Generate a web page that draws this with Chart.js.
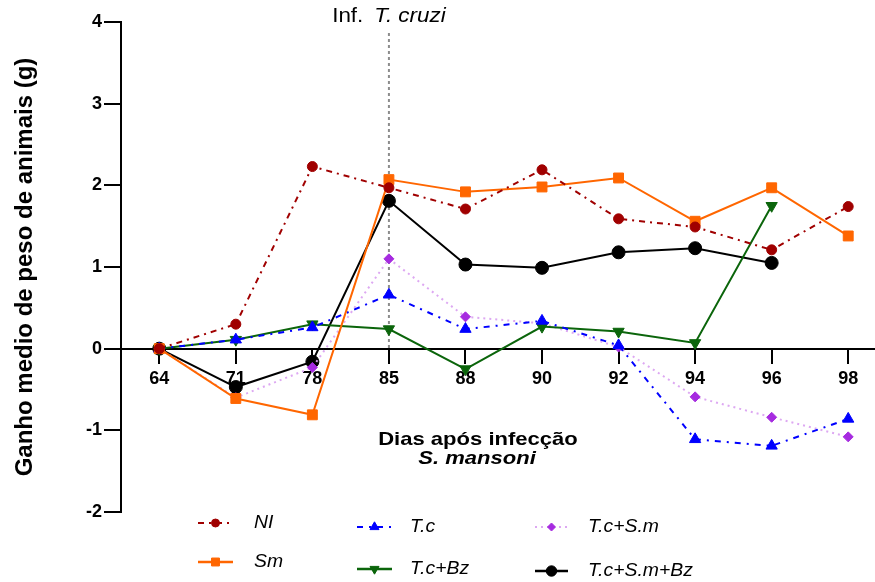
<!DOCTYPE html>
<html>
<head>
<meta charset="utf-8">
<script src="https://cdn.jsdelivr.net/npm/chart.js@4.4.1/dist/chart.umd.min.js"></script>
<style>
  html, body { margin: 0; padding: 0; background: #fff; }
  #wrap { width: 875px; height: 582px; position: relative; }
</style>
</head>
<body>
<div id="wrap"><canvas id="pesoChart"></canvas></div>
<script>
// dias após infecção por S. mansoni
const days = [64, 71, 78, 85, 88, 90, 92, 94, 96, 98];
const yTicks = [-2, -1, 0, 1, 2, 3, 4];

// ganho médio de peso (g) por grupo
const niValues = [0, 0.30, 2.23, 1.97, 1.71, 2.19, 1.59, 1.49, 1.21, 1.74];
const smValues = [0, -0.61, -0.81, 2.07, 1.92, 1.98, 2.09, 1.56, 1.97, 1.38];
const tcValues = [0, 0.11, 0.26, 0.66, 0.24, 0.34, 0.04, -1.11, -1.19, -0.86];
const tcBzValues = [0, 0.11, 0.30, 0.24, -0.25, 0.27, 0.21, 0.07, 1.75, null];
const tcSmValues = [0, -0.60, -0.23, 1.10, 0.39, 0.31, 0.02, -0.59, -0.84, -1.08];
const tcSmBzValues = [0, -0.47, -0.16, 1.81, 1.03, 0.99, 1.18, 1.23, 1.05, null];

const infectionDay = 85;

const FONT = '"Liberation Sans", Arial, sans-serif';
Chart.defaults.font.family = FONT;
Chart.defaults.color = '#000';

function toPoints(values) {
  return values.map((v, i) => ({ x: i, y: v }));
}

function series(label, values, style) {
  return Object.assign({
    label: label,
    data: toPoints(values),
    borderWidth: 2,
    pointBorderWidth: 1,
    fill: false,
    tension: 0
  }, style);
}

const datasets = [
  series('NI', niValues, {
    borderColor: '#A00000', backgroundColor: '#A00000', pointBorderColor: '#A00000',
    borderDash: [6, 5, 2, 5], pointStyle: 'circle', pointRadius: 5, order: 1
  }),
  series('Sm', smValues, {
    borderColor: '#FF6600', backgroundColor: '#FF6600', pointBorderColor: '#FF6600',
    pointStyle: 'rect', pointRadius: 7, order: 2
  }),
  series('T.c', tcValues, {
    borderColor: '#0000FF', backgroundColor: '#0000FF', pointBorderColor: '#0000FF',
    borderDash: [6, 6, 2, 6], pointStyle: 'triangle', pointRadius: 6.5, order: 3
  }),
  series('T.c+Bz', tcBzValues, {
    borderColor: '#0B650B', backgroundColor: '#0B650B', pointBorderColor: '#0B650B',
    pointStyle: 'triangle', pointRotation: 180, pointRadius: 6.5, order: 4
  }),
  series('T.c+S.m', tcSmValues, {
    borderColor: '#DDA8F2', backgroundColor: '#A62BE0', pointBorderColor: '#A62BE0',
    borderDash: [2, 4], pointStyle: 'rectRot', pointRadius: 5, order: 5
  }),
  series('T.c+S.m+Bz', tcSmBzValues, {
    borderColor: '#000000', backgroundColor: '#000000', pointBorderColor: '#000000',
    pointStyle: 'circle', pointRadius: 6.5, order: 6
  })
];

// text drawn with a slight horizontal stretch
function stretchedText(ctx, text, x, y, font, align, sx) {
  ctx.save();
  ctx.font = font;
  ctx.textBaseline = 'middle';
  ctx.textAlign = align;
  ctx.translate(x, y);
  ctx.scale(sx, 1);
  ctx.fillText(text, 0, 0);
  ctx.restore();
}

// dashed marker for the T. cruzi infection and the axis caption
const annotations = {
  id: 'annotations',
  beforeDatasetsDraw(chart) {
    const { ctx, scales } = chart;
    const x = scales.x.getPixelForValue(days.indexOf(infectionDay));
    ctx.save();
    ctx.strokeStyle = '#8c8c8c';
    ctx.lineWidth = 2;
    ctx.setLineDash([3, 3]);
    ctx.beginPath();
    ctx.moveTo(x, scales.y.getPixelForValue(4) + 11);
    ctx.lineTo(x, scales.y.getPixelForValue(0));
    ctx.stroke();
    ctx.restore();

    // "Inf. T. cruzi"
    ctx.save();
    ctx.fillStyle = '#000';
    const sx = 1.12;
    ctx.font = '20px ' + FONT;
    const w1 = ctx.measureText('Inf.').width * sx;
    ctx.font = 'italic 20px ' + FONT;
    const w2 = ctx.measureText('T. cruzi').width * sx;
    const gap = 11;
    const left = x - (w1 + gap + w2) / 2;
    stretchedText(ctx, 'Inf.', left, 16, '20px ' + FONT, 'left', sx);
    stretchedText(ctx, 'T. cruzi', left + w1 + gap, 16, 'italic 20px ' + FONT, 'left', sx);
    ctx.restore();

    ctx.save();
    ctx.fillStyle = '#000';
    stretchedText(ctx, 'Dias após infecção', 478, 440, 'bold 19px ' + FONT, 'center', 1.16);
    stretchedText(ctx, 'S. mansoni', 477, 459, 'italic bold 19px ' + FONT, 'center', 1.16);
    ctx.restore();
  }
};

// legend laid out in three columns, two rows
const legendSlots = [
  { x0: 198, x1: 233, y: 523, tx: 254 },
  { x0: 198, x1: 233, y: 562, tx: 254 },
  { x0: 357, x1: 392, y: 527, tx: 410 },
  { x0: 357, x1: 392, y: 569, tx: 410 },
  { x0: 535, x1: 568, y: 527, tx: 588 },
  { x0: 535, x1: 568, y: 571, tx: 588 }
];

const gridLegend = {
  id: 'gridLegend',
  afterDraw(chart) {
    const ctx = chart.ctx;
    chart.data.datasets.forEach((ds, i) => {
      const s = legendSlots[i];
      ctx.save();
      ctx.strokeStyle = ds.borderColor;
      ctx.lineWidth = ds.borderDash ? 2 : 2.5;
      ctx.setLineDash(ds.borderDash || []);
      ctx.beginPath();
      ctx.moveTo(s.x0, s.y);
      ctx.lineTo(s.x1, s.y);
      ctx.stroke();
      ctx.setLineDash([]);
      ctx.fillStyle = ds.backgroundColor;
      ctx.strokeStyle = ds.pointBorderColor;
      ctx.lineWidth = 1;
      Chart.helpers.drawPoint(ctx, {
        pointStyle: ds.pointStyle,
        radius: ds.pointRadius * 0.8,
        rotation: ds.pointRotation || 0,
        borderWidth: 1
      }, (s.x0 + s.x1) / 2, s.y);
      ctx.fillStyle = '#000';
      stretchedText(ctx, ds.label, s.tx, s.y, 'italic 19px ' + FONT, 'left', 1.02);
      ctx.restore();
    });
  }
};

new Chart(document.getElementById('pesoChart'), {
  type: 'line',
  data: { datasets: datasets },
  plugins: [annotations, gridLegend],
  options: {
    responsive: true,
    maintainAspectRatio: false,
    animation: false,
    layout: { autoPadding: false, padding: { left: 0, top: 22, right: 0, bottom: 70 } },
    plugins: {
      legend: { display: false },
      tooltip: { enabled: false }
    },
    scales: {
      x: {
        type: 'linear',
        position: { y: 0 },
        min: -0.5,
        max: 9.35,
        afterBuildTicks(scale) {
          scale.ticks = days.map((d, i) => ({ value: i }));
        },
        afterFit(scale) {
          scale.paddingLeft = 0;
          scale.paddingRight = 0;
        },
        ticks: {
          callback: (v) => days[v],
          font: { size: 18, weight: 'bold' },
          color: '#000',
          padding: 6,
          maxRotation: 0,
          autoSkip: false
        },
        grid: { drawOnChartArea: false, drawTicks: true, tickLength: 14, color: '#000', lineWidth: 2 },
        border: { color: '#000', width: 2 }
      },
      y: {
        min: -2,
        max: 4,
        afterBuildTicks(scale) {
          scale.ticks = yTicks.map(v => ({ value: v }));
        },
        afterFit(scale) {
          scale.width = 121;
          scale.paddingTop = 0;
          scale.paddingBottom = 0;
        },
        ticks: {
          font: { size: 18, weight: 'bold' },
          color: '#000',
          padding: 2
        },
        grid: { drawOnChartArea: false, drawTicks: true, tickLength: 17, color: '#000', lineWidth: 2 },
        border: { color: '#000', width: 2 },
        title: {
          display: true,
          text: 'Ganho medio de peso de animais (g)',
          font: { size: 24, weight: 'bold' },
          color: '#000',
          padding: { top: 11, bottom: 0 }
        }
      }
    }
  }
});
</script>
</body>
</html>
